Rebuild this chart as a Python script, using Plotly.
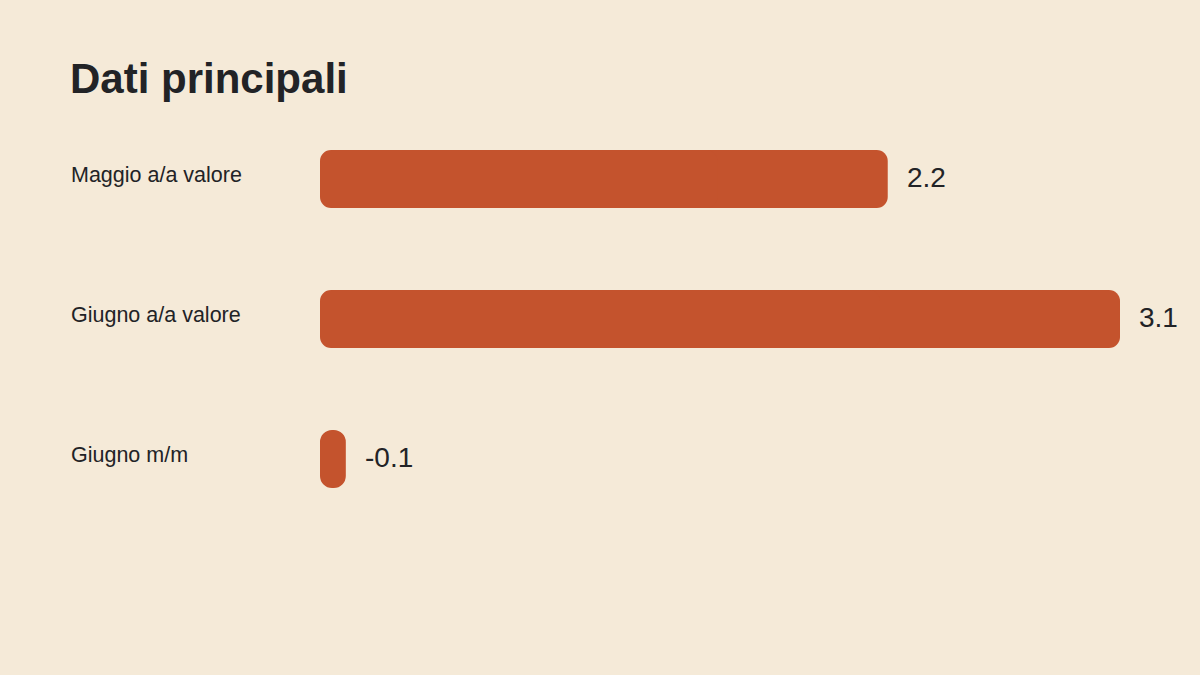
import plotly.graph_objects as go

# dati
categorie = ["Maggio a/a valore", "Giugno a/a valore", "Giugno m/m"]
valori = [2.2, 3.1, -0.1]
etichette = ["2.2", "3.1", "-0.1"]

SFONDO = "#F5EAD8"
BARRA = "#C4532D"
TESTO = "#222326"
FONT = "Liberation Sans, Arial, sans-serif"

# la lunghezza della barra e' il valore assoluto, il segno resta nell'etichetta
lunghezze = [abs(v) for v in valori]
lunghe = [l >= 0.5 for l in lunghezze]

fig = go.Figure()
# barre lunghe: due pezzi sovrapposti, cosi' entrambe le estremita' sono arrotondate
for k in (1, -1):
    fig.add_trace(go.Bar(
        x=[k * l * 0.7 if g else None for l, g in zip(lunghezze, lunghe)],
        base=[l * (0.3 if k == 1 else 0.7) for l in lunghezze],
        y=categorie,
        orientation="h",
        marker=dict(color=BARRA, cornerradius=11, line=dict(width=0)),
        hoverinfo="skip",
    ))
# barre corte: un solo pezzo disegnato dalla fine verso lo zero, diventa una pillola
fig.add_trace(go.Bar(
    x=[None if g else -l for l, g in zip(lunghezze, lunghe)],
    base=lunghezze,
    y=categorie,
    orientation="h",
    marker=dict(color=BARRA, cornerradius=14, line=dict(width=0)),
    hoverinfo="skip",
))

# etichette delle categorie, allineate a sinistra
for c in categorie:
    fig.add_annotation(
        x=-250 / 880, xref="paper", y=c, yref="y",
        text=c, showarrow=False, xanchor="left", yanchor="middle",
        xshift=-1, yshift=4, font=dict(family=FONT, size=21.5, color=TESTO),
    )

# valori a destra delle barre
for c, l, t in zip(categorie, lunghezze, etichette):
    fig.add_annotation(
        x=l, y=c, text=t, showarrow=False, xanchor="left", yanchor="middle",
        xshift=17, yshift=1.5, font=dict(family=FONT, size=28, color=TESTO),
    )

fig.update_layout(
    width=1200, height=675,
    paper_bgcolor=SFONDO, plot_bgcolor=SFONDO,
    margin=dict(l=320, r=0, t=109, b=146),
    barmode="overlay",
    bargap=0.586,
    showlegend=False,
    title=dict(
        text="<b>Dati principali</b>",
        x=70 / 1200, xanchor="left", xref="container",
        y=1 - 78 / 675, yanchor="middle", yref="container",
        font=dict(family=FONT, size=42, color=TESTO),
    ),
    xaxis=dict(range=[0, max(lunghezze) * 1.1], visible=False, fixedrange=True),
    yaxis=dict(autorange="reversed", visible=False, fixedrange=True),
)

fig.write_html(
    "out.html",
    config={"displayModeBar": False},
    post_script="document.body.style.margin='0';document.body.style.background='" + SFONDO + "';",
)
